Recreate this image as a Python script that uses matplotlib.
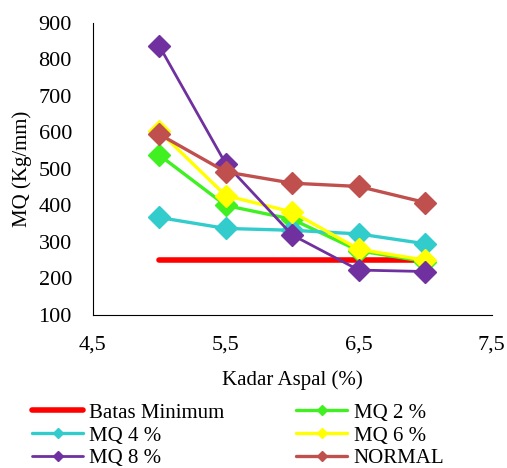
import matplotlib.pyplot as plt

plt.rcParams["font.family"] = ["Liberation Serif", "DejaVu Serif"]

kadar = [5.0, 5.5, 6.0, 6.5, 7.0]
batas_minimum = [250, 250, 250, 250, 250]
mq_2 = [538, 400, 362, 276, 246]
mq_4 = [367, 337, 332, 322, 295]
mq_6 = [603, 427, 382, 280, 250]
mq_8 = [837, 514, 319, 223, 219]
normal = [595, 492, 461, 452, 408]

x_ticks = [4.5, 5.5, 6.5, 7.5]
x_tick_labels = ["4,5", "5,5", "6,5", "7,5"]
y_ticks = [100, 200, 300, 400, 500, 600, 700, 800, 900]

fig = plt.figure(figsize=(5.07, 4.68), dpi=100)
ax = fig.add_axes([0.183, 0.327, 0.787, 0.624])

series = [
    ("Batas Minimum", batas_minimum, "#FF0000", None, 4.0),
    ("MQ 2 %", mq_2, "#40F020", "D", 2.4),
    ("MQ 4 %", mq_4, "#33CCCC", "D", 2.4),
    ("MQ 6 %", mq_6, "#FFFF00", "D", 2.4),
    ("MQ 8 %", mq_8, "#7030A0", "D", 2.0),
    ("NORMAL", normal, "#C0504D", "D", 2.4),
]
handles = {}
for name, vals, col, mk, lw in series:
    (h,) = ax.plot(kadar, vals, color=col, lw=lw, marker=mk, markersize=11,
                   solid_capstyle="round", label=name)
    handles[name] = h

ax.set_xlim(4.5, 7.5)
ax.set_ylim(100, 900)
ax.set_xticks(x_ticks)
ax.set_xticklabels(x_tick_labels)
ax.set_yticks(y_ticks)
ax.tick_params(length=0, labelsize=16)
ax.tick_params(axis="x", pad=15)
ax.tick_params(axis="y", pad=15)
for s in ["top", "right"]:
    ax.spines[s].set_visible(False)
ax.set_xlabel("Kadar Aspal (%)", fontsize=15, labelpad=11)
ax.set_ylabel("MQ (Kg/mm)", fontsize=15, labelpad=5)

order = ["Batas Minimum", "MQ 4 %", "MQ 8 %", "MQ 2 %", "MQ 6 %", "NORMAL"]
fig.legend([handles[n] for n in order], order, ncol=2, loc="upper left",
           bbox_to_anchor=(32 / 507, 1 - 403 / 468), frameon=False, fontsize=15,
           borderpad=0, borderaxespad=0,
           handlelength=2.45, handletextpad=0.3, columnspacing=3.45,
           labelspacing=0.16, markerscale=0.5)

plt.savefig("out.png", dpi=100)
plt.close()
